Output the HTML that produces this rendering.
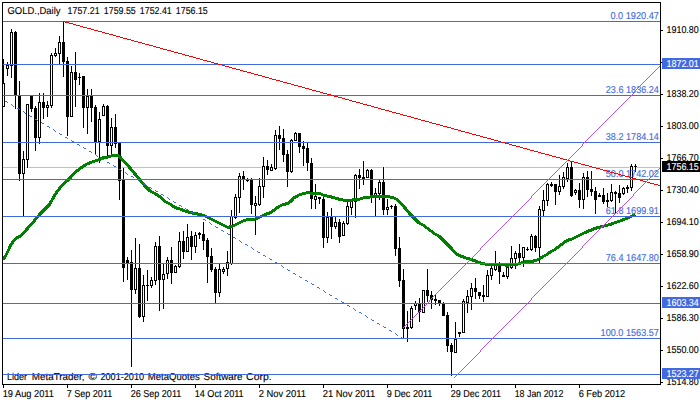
<!DOCTYPE html>
<html><head><meta charset="utf-8"><title>GOLD Daily</title>
<style>html,body{margin:0;padding:0;background:#fff}body{width:700px;height:402px;overflow:hidden}</style></head>
<body>
<svg width="700" height="402" viewBox="0 0 700 402" style="display:block">
<rect width="700" height="402" fill="#fff"/>
<g font-family="Liberation Sans, sans-serif" font-size="10px" text-rendering="geometricPrecision">
<g shape-rendering="crispEdges">
<rect x="3" y="167" width="657" height="1" fill="#C0C0C0"/>
</g>
<text x="6.9" y="380" fill="#000" stroke="#000" stroke-width="0.12" text-anchor="start" textLength="20.2" lengthAdjust="spacingAndGlyphs">Lider</text>
<text x="31.7" y="380" fill="#000" stroke="#000" stroke-width="0.12" text-anchor="start" textLength="52.9" lengthAdjust="spacingAndGlyphs">MetaTrader,</text>
<text x="88.6" y="380" fill="#000" stroke="#000" stroke-width="0.12" text-anchor="start" textLength="8.3" lengthAdjust="spacingAndGlyphs">©</text>
<text x="100.5" y="380" fill="#000" stroke="#000" stroke-width="0.12" text-anchor="start" textLength="43.5" lengthAdjust="spacingAndGlyphs">2001-2010</text>
<text x="147.8" y="380" fill="#000" stroke="#000" stroke-width="0.12" text-anchor="start" textLength="52" lengthAdjust="spacingAndGlyphs">MetaQuotes</text>
<text x="203.6" y="380" fill="#000" stroke="#000" stroke-width="0.12" text-anchor="start" textLength="39" lengthAdjust="spacingAndGlyphs">Software</text>
<text x="246.1" y="380" fill="#000" stroke="#000" stroke-width="0.12" text-anchor="start" textLength="25.6" lengthAdjust="spacingAndGlyphs">Corp.</text>
<g shape-rendering="crispEdges">
<rect x="3" y="59" width="1" height="48" fill="#000"/>
<rect x="2" y="83" width="3" height="24" fill="#000"/>
<rect x="3" y="84" width="1" height="22" fill="#fff"/>
<rect x="7" y="62" width="1" height="14" fill="#000"/>
<rect x="6" y="65" width="3" height="4" fill="#000"/>
<rect x="7" y="66" width="1" height="2" fill="#fff"/>
<rect x="11" y="29" width="1" height="49" fill="#000"/>
<rect x="10" y="32" width="3" height="34" fill="#000"/>
<rect x="11" y="33" width="1" height="32" fill="#fff"/>
<rect x="15" y="31" width="1" height="78" fill="#000"/>
<rect x="14" y="32" width="3" height="63" fill="#000"/>
<rect x="19" y="81" width="1" height="100" fill="#000"/>
<rect x="18" y="96" width="3" height="78" fill="#000"/>
<rect x="23" y="151" width="1" height="66" fill="#000"/>
<rect x="22" y="159" width="3" height="15" fill="#000"/>
<rect x="23" y="160" width="1" height="13" fill="#fff"/>
<rect x="27" y="104" width="1" height="64" fill="#000"/>
<rect x="26" y="104" width="3" height="56" fill="#000"/>
<rect x="27" y="105" width="1" height="54" fill="#fff"/>
<rect x="31" y="96" width="1" height="16" fill="#000"/>
<rect x="30" y="96" width="3" height="13" fill="#000"/>
<rect x="35" y="106" width="1" height="45" fill="#000"/>
<rect x="34" y="108" width="3" height="30" fill="#000"/>
<rect x="39" y="93" width="1" height="51" fill="#000"/>
<rect x="38" y="102" width="3" height="36" fill="#000"/>
<rect x="39" y="103" width="1" height="34" fill="#fff"/>
<rect x="43" y="93" width="1" height="26" fill="#000"/>
<rect x="42" y="102" width="3" height="6" fill="#000"/>
<rect x="47" y="101" width="1" height="16" fill="#000"/>
<rect x="46" y="105" width="3" height="3" fill="#000"/>
<rect x="47" y="106" width="1" height="1" fill="#fff"/>
<rect x="51" y="53" width="1" height="55" fill="#000"/>
<rect x="50" y="55" width="3" height="51" fill="#000"/>
<rect x="51" y="56" width="1" height="49" fill="#fff"/>
<rect x="55" y="48" width="1" height="9" fill="#000"/>
<rect x="54" y="53" width="3" height="3" fill="#000"/>
<rect x="55" y="54" width="1" height="1" fill="#fff"/>
<rect x="59" y="36" width="1" height="29" fill="#000"/>
<rect x="58" y="42" width="3" height="12" fill="#000"/>
<rect x="59" y="43" width="1" height="10" fill="#fff"/>
<rect x="63" y="21" width="1" height="56" fill="#000"/>
<rect x="62" y="42" width="3" height="20" fill="#000"/>
<rect x="67" y="57" width="1" height="79" fill="#000"/>
<rect x="66" y="61" width="3" height="56" fill="#000"/>
<rect x="71" y="66" width="1" height="51" fill="#000"/>
<rect x="70" y="72" width="3" height="45" fill="#000"/>
<rect x="71" y="73" width="1" height="43" fill="#fff"/>
<rect x="75" y="52" width="1" height="55" fill="#000"/>
<rect x="74" y="72" width="3" height="8" fill="#000"/>
<rect x="79" y="73" width="1" height="12" fill="#000"/>
<rect x="78" y="77" width="3" height="1" fill="#000"/>
<rect x="83" y="76" width="1" height="52" fill="#000"/>
<rect x="82" y="76" width="3" height="32" fill="#000"/>
<rect x="87" y="89" width="1" height="45" fill="#000"/>
<rect x="86" y="96" width="3" height="12" fill="#000"/>
<rect x="87" y="97" width="1" height="10" fill="#fff"/>
<rect x="91" y="89" width="1" height="33" fill="#000"/>
<rect x="90" y="96" width="3" height="12" fill="#000"/>
<rect x="95" y="105" width="1" height="50" fill="#000"/>
<rect x="94" y="107" width="3" height="35" fill="#000"/>
<rect x="99" y="112" width="1" height="51" fill="#000"/>
<rect x="98" y="119" width="3" height="23" fill="#000"/>
<rect x="99" y="120" width="1" height="21" fill="#fff"/>
<rect x="103" y="104" width="1" height="12" fill="#000"/>
<rect x="102" y="106" width="3" height="10" fill="#000"/>
<rect x="103" y="107" width="1" height="8" fill="#fff"/>
<rect x="107" y="105" width="1" height="51" fill="#000"/>
<rect x="106" y="106" width="3" height="40" fill="#000"/>
<rect x="111" y="118" width="1" height="37" fill="#000"/>
<rect x="110" y="127" width="3" height="19" fill="#000"/>
<rect x="111" y="128" width="1" height="17" fill="#fff"/>
<rect x="115" y="114" width="1" height="34" fill="#000"/>
<rect x="114" y="127" width="3" height="17" fill="#000"/>
<rect x="119" y="143" width="1" height="57" fill="#000"/>
<rect x="118" y="143" width="3" height="38" fill="#000"/>
<rect x="123" y="168" width="1" height="114" fill="#000"/>
<rect x="122" y="180" width="3" height="88" fill="#000"/>
<rect x="127" y="257" width="1" height="23" fill="#000"/>
<rect x="126" y="260" width="3" height="4" fill="#000"/>
<rect x="131" y="250" width="1" height="117" fill="#000"/>
<rect x="130" y="262" width="3" height="28" fill="#000"/>
<rect x="135" y="238" width="1" height="56" fill="#000"/>
<rect x="134" y="268" width="3" height="22" fill="#000"/>
<rect x="135" y="269" width="1" height="20" fill="#fff"/>
<rect x="139" y="244" width="1" height="74" fill="#000"/>
<rect x="138" y="268" width="3" height="49" fill="#000"/>
<rect x="143" y="275" width="1" height="47" fill="#000"/>
<rect x="142" y="285" width="3" height="32" fill="#000"/>
<rect x="143" y="286" width="1" height="30" fill="#fff"/>
<rect x="147" y="270" width="1" height="31" fill="#000"/>
<rect x="146" y="285" width="3" height="1" fill="#000"/>
<rect x="151" y="277" width="1" height="11" fill="#000"/>
<rect x="150" y="280" width="3" height="6" fill="#000"/>
<rect x="151" y="281" width="1" height="4" fill="#fff"/>
<rect x="155" y="242" width="1" height="43" fill="#000"/>
<rect x="154" y="246" width="3" height="35" fill="#000"/>
<rect x="155" y="247" width="1" height="33" fill="#fff"/>
<rect x="159" y="236" width="1" height="75" fill="#000"/>
<rect x="158" y="246" width="3" height="34" fill="#000"/>
<rect x="163" y="264" width="1" height="45" fill="#000"/>
<rect x="162" y="274" width="3" height="6" fill="#000"/>
<rect x="163" y="275" width="1" height="4" fill="#fff"/>
<rect x="167" y="257" width="1" height="22" fill="#000"/>
<rect x="166" y="260" width="3" height="14" fill="#000"/>
<rect x="167" y="261" width="1" height="12" fill="#fff"/>
<rect x="171" y="247" width="1" height="37" fill="#000"/>
<rect x="170" y="260" width="3" height="13" fill="#000"/>
<rect x="175" y="265" width="1" height="8" fill="#000"/>
<rect x="174" y="266" width="3" height="7" fill="#000"/>
<rect x="175" y="267" width="1" height="5" fill="#fff"/>
<rect x="179" y="232" width="1" height="36" fill="#000"/>
<rect x="178" y="241" width="3" height="26" fill="#000"/>
<rect x="179" y="242" width="1" height="24" fill="#fff"/>
<rect x="183" y="231" width="1" height="28" fill="#000"/>
<rect x="182" y="241" width="3" height="11" fill="#000"/>
<rect x="187" y="224" width="1" height="28" fill="#000"/>
<rect x="186" y="237" width="3" height="15" fill="#000"/>
<rect x="187" y="238" width="1" height="13" fill="#fff"/>
<rect x="191" y="231" width="1" height="29" fill="#000"/>
<rect x="190" y="236" width="3" height="11" fill="#000"/>
<rect x="195" y="232" width="1" height="21" fill="#000"/>
<rect x="194" y="235" width="3" height="12" fill="#000"/>
<rect x="195" y="236" width="1" height="10" fill="#fff"/>
<rect x="199" y="232" width="1" height="7" fill="#000"/>
<rect x="198" y="233" width="3" height="2" fill="#000"/>
<rect x="203" y="222" width="1" height="28" fill="#000"/>
<rect x="202" y="234" width="3" height="7" fill="#000"/>
<rect x="207" y="238" width="1" height="45" fill="#000"/>
<rect x="206" y="240" width="3" height="17" fill="#000"/>
<rect x="211" y="248" width="1" height="24" fill="#000"/>
<rect x="210" y="256" width="3" height="14" fill="#000"/>
<rect x="215" y="267" width="1" height="37" fill="#000"/>
<rect x="214" y="269" width="3" height="24" fill="#000"/>
<rect x="219" y="264" width="1" height="33" fill="#000"/>
<rect x="218" y="269" width="3" height="24" fill="#000"/>
<rect x="219" y="270" width="1" height="22" fill="#fff"/>
<rect x="223" y="267" width="1" height="7" fill="#000"/>
<rect x="222" y="269" width="3" height="3" fill="#000"/>
<rect x="223" y="270" width="1" height="1" fill="#fff"/>
<rect x="227" y="251" width="1" height="25" fill="#000"/>
<rect x="226" y="262" width="3" height="7" fill="#000"/>
<rect x="227" y="263" width="1" height="5" fill="#fff"/>
<rect x="231" y="210" width="1" height="55" fill="#000"/>
<rect x="230" y="216" width="3" height="48" fill="#000"/>
<rect x="231" y="217" width="1" height="46" fill="#fff"/>
<rect x="235" y="194" width="1" height="25" fill="#000"/>
<rect x="234" y="197" width="3" height="21" fill="#000"/>
<rect x="235" y="198" width="1" height="19" fill="#fff"/>
<rect x="239" y="173" width="1" height="40" fill="#000"/>
<rect x="238" y="176" width="3" height="22" fill="#000"/>
<rect x="239" y="177" width="1" height="20" fill="#fff"/>
<rect x="243" y="171" width="1" height="19" fill="#000"/>
<rect x="242" y="176" width="3" height="4" fill="#000"/>
<rect x="247" y="178" width="1" height="4" fill="#000"/>
<rect x="246" y="180" width="3" height="1" fill="#000"/>
<rect x="251" y="178" width="1" height="36" fill="#000"/>
<rect x="250" y="180" width="3" height="25" fill="#000"/>
<rect x="255" y="196" width="1" height="39" fill="#000"/>
<rect x="254" y="203" width="3" height="3" fill="#000"/>
<rect x="255" y="204" width="1" height="1" fill="#fff"/>
<rect x="259" y="178" width="1" height="28" fill="#000"/>
<rect x="258" y="186" width="3" height="19" fill="#000"/>
<rect x="259" y="187" width="1" height="17" fill="#fff"/>
<rect x="263" y="157" width="1" height="41" fill="#000"/>
<rect x="262" y="166" width="3" height="21" fill="#000"/>
<rect x="263" y="167" width="1" height="19" fill="#fff"/>
<rect x="267" y="160" width="1" height="15" fill="#000"/>
<rect x="266" y="166" width="3" height="4" fill="#000"/>
<rect x="271" y="164" width="1" height="7" fill="#000"/>
<rect x="270" y="167" width="3" height="4" fill="#000"/>
<rect x="271" y="168" width="1" height="2" fill="#fff"/>
<rect x="275" y="130" width="1" height="40" fill="#000"/>
<rect x="274" y="135" width="3" height="34" fill="#000"/>
<rect x="275" y="136" width="1" height="32" fill="#fff"/>
<rect x="279" y="126" width="1" height="24" fill="#000"/>
<rect x="278" y="135" width="3" height="4" fill="#000"/>
<rect x="283" y="129" width="1" height="33" fill="#000"/>
<rect x="282" y="138" width="3" height="17" fill="#000"/>
<rect x="287" y="150" width="1" height="37" fill="#000"/>
<rect x="286" y="154" width="3" height="18" fill="#000"/>
<rect x="291" y="139" width="1" height="34" fill="#000"/>
<rect x="290" y="140" width="3" height="32" fill="#000"/>
<rect x="291" y="141" width="1" height="30" fill="#fff"/>
<rect x="295" y="132" width="1" height="9" fill="#000"/>
<rect x="294" y="133" width="3" height="8" fill="#000"/>
<rect x="295" y="134" width="1" height="6" fill="#fff"/>
<rect x="299" y="133" width="1" height="20" fill="#000"/>
<rect x="298" y="133" width="3" height="14" fill="#000"/>
<rect x="303" y="141" width="1" height="25" fill="#000"/>
<rect x="302" y="146" width="3" height="3" fill="#000"/>
<rect x="307" y="143" width="1" height="28" fill="#000"/>
<rect x="306" y="148" width="3" height="15" fill="#000"/>
<rect x="311" y="158" width="1" height="51" fill="#000"/>
<rect x="310" y="163" width="3" height="36" fill="#000"/>
<rect x="315" y="184" width="1" height="25" fill="#000"/>
<rect x="314" y="196" width="3" height="4" fill="#000"/>
<rect x="315" y="197" width="1" height="2" fill="#fff"/>
<rect x="319" y="197" width="1" height="7" fill="#000"/>
<rect x="318" y="197" width="3" height="2" fill="#000"/>
<rect x="323" y="197" width="1" height="51" fill="#000"/>
<rect x="322" y="199" width="3" height="39" fill="#000"/>
<rect x="327" y="212" width="1" height="31" fill="#000"/>
<rect x="326" y="217" width="3" height="21" fill="#000"/>
<rect x="327" y="218" width="1" height="19" fill="#fff"/>
<rect x="331" y="208" width="1" height="31" fill="#000"/>
<rect x="330" y="217" width="3" height="10" fill="#000"/>
<rect x="335" y="217" width="1" height="12" fill="#000"/>
<rect x="334" y="222" width="3" height="5" fill="#000"/>
<rect x="335" y="223" width="1" height="3" fill="#fff"/>
<rect x="339" y="219" width="1" height="24" fill="#000"/>
<rect x="338" y="222" width="3" height="15" fill="#000"/>
<rect x="343" y="221" width="1" height="15" fill="#000"/>
<rect x="342" y="223" width="3" height="13" fill="#000"/>
<rect x="343" y="224" width="1" height="11" fill="#fff"/>
<rect x="347" y="201" width="1" height="24" fill="#000"/>
<rect x="346" y="206" width="3" height="18" fill="#000"/>
<rect x="347" y="207" width="1" height="16" fill="#fff"/>
<rect x="351" y="199" width="1" height="16" fill="#000"/>
<rect x="350" y="201" width="3" height="7" fill="#000"/>
<rect x="351" y="202" width="1" height="5" fill="#fff"/>
<rect x="355" y="174" width="1" height="44" fill="#000"/>
<rect x="354" y="175" width="3" height="27" fill="#000"/>
<rect x="355" y="176" width="1" height="25" fill="#fff"/>
<rect x="359" y="169" width="1" height="20" fill="#000"/>
<rect x="358" y="175" width="3" height="3" fill="#000"/>
<rect x="363" y="161" width="1" height="24" fill="#000"/>
<rect x="362" y="177" width="3" height="3" fill="#000"/>
<rect x="367" y="169" width="1" height="9" fill="#000"/>
<rect x="366" y="170" width="3" height="8" fill="#000"/>
<rect x="367" y="171" width="1" height="6" fill="#fff"/>
<rect x="371" y="169" width="1" height="34" fill="#000"/>
<rect x="370" y="170" width="3" height="26" fill="#000"/>
<rect x="375" y="188" width="1" height="29" fill="#000"/>
<rect x="374" y="193" width="3" height="3" fill="#000"/>
<rect x="375" y="194" width="1" height="1" fill="#fff"/>
<rect x="379" y="180" width="1" height="20" fill="#000"/>
<rect x="378" y="182" width="3" height="12" fill="#000"/>
<rect x="379" y="183" width="1" height="10" fill="#fff"/>
<rect x="383" y="167" width="1" height="48" fill="#000"/>
<rect x="382" y="182" width="3" height="28" fill="#000"/>
<rect x="387" y="199" width="1" height="16" fill="#000"/>
<rect x="386" y="207" width="3" height="3" fill="#000"/>
<rect x="387" y="208" width="1" height="1" fill="#fff"/>
<rect x="391" y="205" width="1" height="4" fill="#000"/>
<rect x="390" y="206" width="3" height="1" fill="#000"/>
<rect x="395" y="204" width="1" height="52" fill="#000"/>
<rect x="394" y="206" width="3" height="43" fill="#000"/>
<rect x="399" y="237" width="1" height="50" fill="#000"/>
<rect x="398" y="248" width="3" height="33" fill="#000"/>
<rect x="403" y="269" width="1" height="70" fill="#000"/>
<rect x="402" y="280" width="3" height="49" fill="#000"/>
<rect x="407" y="311" width="1" height="31" fill="#000"/>
<rect x="406" y="327" width="3" height="2" fill="#000"/>
<rect x="411" y="306" width="1" height="23" fill="#000"/>
<rect x="410" y="308" width="3" height="20" fill="#000"/>
<rect x="411" y="309" width="1" height="18" fill="#fff"/>
<rect x="415" y="301" width="1" height="9" fill="#000"/>
<rect x="414" y="303" width="3" height="3" fill="#000"/>
<rect x="415" y="304" width="1" height="1" fill="#fff"/>
<rect x="419" y="298" width="1" height="24" fill="#000"/>
<rect x="418" y="304" width="3" height="8" fill="#000"/>
<rect x="423" y="290" width="1" height="23" fill="#000"/>
<rect x="422" y="290" width="3" height="23" fill="#000"/>
<rect x="423" y="291" width="1" height="21" fill="#fff"/>
<rect x="427" y="269" width="1" height="33" fill="#000"/>
<rect x="426" y="290" width="3" height="6" fill="#000"/>
<rect x="431" y="291" width="1" height="18" fill="#000"/>
<rect x="430" y="295" width="3" height="5" fill="#000"/>
<rect x="435" y="294" width="1" height="11" fill="#000"/>
<rect x="434" y="299" width="3" height="2" fill="#000"/>
<rect x="439" y="300" width="1" height="6" fill="#000"/>
<rect x="438" y="300" width="3" height="3" fill="#000"/>
<rect x="443" y="302" width="1" height="14" fill="#000"/>
<rect x="442" y="304" width="3" height="12" fill="#000"/>
<rect x="447" y="312" width="1" height="40" fill="#000"/>
<rect x="446" y="315" width="3" height="31" fill="#000"/>
<rect x="451" y="343" width="1" height="33" fill="#000"/>
<rect x="450" y="345" width="3" height="7" fill="#000"/>
<rect x="455" y="322" width="1" height="31" fill="#000"/>
<rect x="454" y="339" width="3" height="14" fill="#000"/>
<rect x="455" y="340" width="1" height="12" fill="#fff"/>
<rect x="459" y="332" width="1" height="5" fill="#000"/>
<rect x="458" y="332" width="3" height="2" fill="#000"/>
<rect x="463" y="299" width="1" height="34" fill="#000"/>
<rect x="462" y="301" width="3" height="32" fill="#000"/>
<rect x="463" y="302" width="1" height="30" fill="#fff"/>
<rect x="467" y="290" width="1" height="23" fill="#000"/>
<rect x="466" y="296" width="3" height="7" fill="#000"/>
<rect x="467" y="297" width="1" height="5" fill="#fff"/>
<rect x="471" y="283" width="1" height="27" fill="#000"/>
<rect x="470" y="288" width="3" height="9" fill="#000"/>
<rect x="471" y="289" width="1" height="7" fill="#fff"/>
<rect x="475" y="278" width="1" height="21" fill="#000"/>
<rect x="474" y="288" width="3" height="4" fill="#000"/>
<rect x="479" y="292" width="1" height="7" fill="#000"/>
<rect x="478" y="292" width="3" height="4" fill="#000"/>
<rect x="483" y="285" width="1" height="17" fill="#000"/>
<rect x="482" y="295" width="3" height="2" fill="#000"/>
<rect x="487" y="270" width="1" height="27" fill="#000"/>
<rect x="486" y="275" width="3" height="22" fill="#000"/>
<rect x="487" y="276" width="1" height="20" fill="#fff"/>
<rect x="491" y="266" width="1" height="14" fill="#000"/>
<rect x="490" y="268" width="3" height="8" fill="#000"/>
<rect x="491" y="269" width="1" height="6" fill="#fff"/>
<rect x="495" y="251" width="1" height="20" fill="#000"/>
<rect x="494" y="264" width="3" height="6" fill="#000"/>
<rect x="495" y="265" width="1" height="4" fill="#fff"/>
<rect x="499" y="262" width="1" height="22" fill="#000"/>
<rect x="498" y="265" width="3" height="7" fill="#000"/>
<rect x="503" y="272" width="1" height="5" fill="#000"/>
<rect x="502" y="275" width="3" height="2" fill="#000"/>
<rect x="507" y="266" width="1" height="13" fill="#000"/>
<rect x="506" y="267" width="3" height="10" fill="#000"/>
<rect x="507" y="268" width="1" height="8" fill="#fff"/>
<rect x="511" y="246" width="1" height="23" fill="#000"/>
<rect x="510" y="258" width="3" height="10" fill="#000"/>
<rect x="511" y="259" width="1" height="8" fill="#fff"/>
<rect x="515" y="251" width="1" height="18" fill="#000"/>
<rect x="514" y="253" width="3" height="6" fill="#000"/>
<rect x="515" y="254" width="1" height="4" fill="#fff"/>
<rect x="519" y="244" width="1" height="20" fill="#000"/>
<rect x="518" y="253" width="3" height="5" fill="#000"/>
<rect x="523" y="247" width="1" height="20" fill="#000"/>
<rect x="522" y="247" width="3" height="11" fill="#000"/>
<rect x="523" y="248" width="1" height="9" fill="#fff"/>
<rect x="527" y="247" width="1" height="4" fill="#000"/>
<rect x="526" y="249" width="3" height="1" fill="#000"/>
<rect x="531" y="234" width="1" height="17" fill="#000"/>
<rect x="530" y="236" width="3" height="14" fill="#000"/>
<rect x="531" y="237" width="1" height="12" fill="#fff"/>
<rect x="535" y="235" width="1" height="17" fill="#000"/>
<rect x="534" y="236" width="3" height="12" fill="#000"/>
<rect x="539" y="206" width="1" height="57" fill="#000"/>
<rect x="538" y="209" width="3" height="39" fill="#000"/>
<rect x="539" y="210" width="1" height="37" fill="#fff"/>
<rect x="543" y="190" width="1" height="26" fill="#000"/>
<rect x="542" y="200" width="3" height="11" fill="#000"/>
<rect x="543" y="201" width="1" height="9" fill="#fff"/>
<rect x="547" y="183" width="1" height="23" fill="#000"/>
<rect x="546" y="184" width="3" height="17" fill="#000"/>
<rect x="547" y="185" width="1" height="15" fill="#fff"/>
<rect x="551" y="182" width="1" height="5" fill="#000"/>
<rect x="550" y="184" width="3" height="2" fill="#000"/>
<rect x="555" y="184" width="1" height="21" fill="#000"/>
<rect x="554" y="184" width="3" height="8" fill="#000"/>
<rect x="559" y="175" width="1" height="20" fill="#000"/>
<rect x="558" y="186" width="3" height="6" fill="#000"/>
<rect x="559" y="187" width="1" height="4" fill="#fff"/>
<rect x="563" y="172" width="1" height="17" fill="#000"/>
<rect x="562" y="177" width="3" height="10" fill="#000"/>
<rect x="563" y="178" width="1" height="8" fill="#fff"/>
<rect x="567" y="163" width="1" height="19" fill="#000"/>
<rect x="566" y="167" width="3" height="12" fill="#000"/>
<rect x="567" y="168" width="1" height="10" fill="#fff"/>
<rect x="571" y="162" width="1" height="35" fill="#000"/>
<rect x="570" y="167" width="3" height="29" fill="#000"/>
<rect x="575" y="189" width="1" height="6" fill="#000"/>
<rect x="574" y="190" width="3" height="3" fill="#000"/>
<rect x="575" y="191" width="1" height="1" fill="#fff"/>
<rect x="579" y="183" width="1" height="25" fill="#000"/>
<rect x="578" y="190" width="3" height="10" fill="#000"/>
<rect x="583" y="173" width="1" height="36" fill="#000"/>
<rect x="582" y="177" width="3" height="23" fill="#000"/>
<rect x="583" y="178" width="1" height="21" fill="#fff"/>
<rect x="587" y="171" width="1" height="26" fill="#000"/>
<rect x="586" y="177" width="3" height="13" fill="#000"/>
<rect x="591" y="171" width="1" height="25" fill="#000"/>
<rect x="590" y="189" width="3" height="3" fill="#000"/>
<rect x="595" y="187" width="1" height="27" fill="#000"/>
<rect x="594" y="191" width="3" height="9" fill="#000"/>
<rect x="599" y="193" width="1" height="4" fill="#000"/>
<rect x="598" y="195" width="3" height="2" fill="#000"/>
<rect x="603" y="188" width="1" height="16" fill="#000"/>
<rect x="602" y="195" width="3" height="7" fill="#000"/>
<rect x="607" y="193" width="1" height="14" fill="#000"/>
<rect x="606" y="200" width="3" height="2" fill="#000"/>
<rect x="611" y="184" width="1" height="18" fill="#000"/>
<rect x="610" y="192" width="3" height="9" fill="#000"/>
<rect x="611" y="193" width="1" height="7" fill="#fff"/>
<rect x="615" y="191" width="1" height="23" fill="#000"/>
<rect x="614" y="192" width="3" height="2" fill="#000"/>
<rect x="619" y="185" width="1" height="18" fill="#000"/>
<rect x="618" y="193" width="3" height="5" fill="#000"/>
<rect x="623" y="187" width="1" height="8" fill="#000"/>
<rect x="622" y="188" width="3" height="6" fill="#000"/>
<rect x="623" y="189" width="1" height="4" fill="#fff"/>
<rect x="627" y="185" width="1" height="8" fill="#000"/>
<rect x="626" y="187" width="3" height="2" fill="#000"/>
<rect x="631" y="164" width="1" height="27" fill="#000"/>
<rect x="630" y="166" width="3" height="22" fill="#000"/>
<rect x="631" y="167" width="1" height="20" fill="#fff"/>
<rect x="635" y="164" width="1" height="8" fill="#000"/>
<rect x="634" y="166" width="3" height="1" fill="#000"/>
<rect x="17" y="167" width="1" height="1" fill="#E9E9E9"/>
<rect x="21" y="167" width="1" height="1" fill="#E9E9E9"/>
<rect x="21" y="167" width="1" height="1" fill="#E9E9E9"/>
<rect x="25" y="167" width="1" height="1" fill="#E9E9E9"/>
<rect x="26" y="167" width="1" height="1" fill="#E9E9E9"/>
<rect x="28" y="167" width="1" height="1" fill="#E9E9E9"/>
<rect x="117" y="167" width="1" height="1" fill="#E9E9E9"/>
<rect x="121" y="167" width="1" height="1" fill="#E9E9E9"/>
<rect x="261" y="167" width="1" height="1" fill="#E9E9E9"/>
<rect x="265" y="167" width="1" height="1" fill="#E9E9E9"/>
<rect x="265" y="167" width="1" height="1" fill="#E9E9E9"/>
<rect x="269" y="167" width="1" height="1" fill="#E9E9E9"/>
<rect x="269" y="167" width="1" height="1" fill="#E9E9E9"/>
<rect x="273" y="167" width="1" height="1" fill="#E9E9E9"/>
<rect x="273" y="167" width="1" height="1" fill="#E9E9E9"/>
<rect x="277" y="167" width="1" height="1" fill="#E9E9E9"/>
<rect x="285" y="167" width="1" height="1" fill="#E9E9E9"/>
<rect x="289" y="167" width="1" height="1" fill="#E9E9E9"/>
<rect x="289" y="167" width="1" height="1" fill="#E9E9E9"/>
<rect x="293" y="167" width="1" height="1" fill="#E9E9E9"/>
<rect x="306" y="167" width="1" height="1" fill="#E9E9E9"/>
<rect x="308" y="167" width="1" height="1" fill="#E9E9E9"/>
<rect x="309" y="167" width="1" height="1" fill="#E9E9E9"/>
<rect x="313" y="167" width="1" height="1" fill="#E9E9E9"/>
<rect x="362" y="167" width="1" height="1" fill="#E9E9E9"/>
<rect x="364" y="167" width="1" height="1" fill="#E9E9E9"/>
<rect x="382" y="167" width="1" height="1" fill="#E9E9E9"/>
<rect x="384" y="167" width="1" height="1" fill="#E9E9E9"/>
<rect x="565" y="167" width="1" height="1" fill="#E9E9E9"/>
<rect x="569" y="167" width="1" height="1" fill="#E9E9E9"/>
<rect x="569" y="167" width="1" height="1" fill="#E9E9E9"/>
<rect x="573" y="167" width="1" height="1" fill="#E9E9E9"/>
<rect x="629" y="167" width="1" height="1" fill="#E9E9E9"/>
<rect x="633" y="167" width="1" height="1" fill="#E9E9E9"/>
<rect x="634" y="167" width="1" height="1" fill="#E9E9E9"/>
<rect x="636" y="167" width="1" height="1" fill="#E9E9E9"/>
<polyline points="3.0,260.0 6.0,255.0 9.0,249.0 11.0,244.5 14.0,240.5 17.0,237.5 20.0,236.5 24.0,232.5 27.0,229.0 30.0,225.5 33.0,222.5 36.0,218.5 40.0,214.0 45.0,209.0 49.5,204.5 52.5,199.0 55.5,194.0 59.0,189.0 63.0,184.7 68.0,180.0 70.0,178.0 75.0,172.5 80.0,168.5 86.0,164.5 90.0,162.8 95.0,161.0 100.0,159.5 103.0,157.5 108.0,157.0 113.0,155.5 117.0,155.0 120.0,157.0 125.0,162.5 130.0,168.0 135.0,174.0 140.0,180.0 145.0,186.0 150.0,191.0 155.0,193.5 160.0,196.8 165.0,201.5 170.0,204.0 175.0,207.5 180.0,209.0 185.0,211.0 190.0,212.5 195.0,213.5 200.0,214.5 205.0,216.0 210.0,218.5 215.0,221.0 220.0,223.5 225.0,226.0 228.0,227.5 233.0,226.0 238.0,223.5 243.0,221.0 248.0,219.5 255.0,219.0 260.0,217.0 265.0,214.5 271.0,212.5 275.0,209.5 279.0,206.5 283.0,204.5 288.0,203.5 291.0,201.0 294.0,197.8 299.0,195.0 304.0,193.5 308.0,192.5 312.0,193.5 320.0,193.5 324.0,195.5 330.0,196.5 335.0,198.0 340.0,199.5 344.0,200.2 350.0,200.3 355.0,199.5 360.0,199.0 365.0,197.5 370.0,197.0 375.0,196.5 380.0,196.2 385.0,196.5 390.0,197.0 393.0,197.5 397.0,199.5 400.0,202.5 405.0,208.0 410.0,214.0 415.0,219.0 419.0,223.0 423.0,225.0 427.0,228.0 431.0,231.0 435.0,234.0 439.0,236.0 443.0,240.0 447.0,244.0 451.0,248.0 454.0,251.5 458.0,255.0 462.0,256.5 466.0,258.0 470.0,259.0 474.0,260.5 478.0,262.0 482.0,263.5 486.0,264.2 490.0,264.5 500.0,264.5 505.0,265.0 509.0,265.0 513.0,264.6 517.0,264.3 521.0,263.0 525.0,261.8 531.0,261.5 536.0,260.5 539.0,259.0 543.0,256.5 547.0,254.5 551.0,251.5 555.0,249.5 559.0,246.5 563.0,243.5 567.0,240.5 572.0,239.0 578.0,236.0 584.0,233.0 590.0,230.5 595.0,228.5 600.0,227.0 610.0,224.5 620.0,221.0 630.0,217.0 635.5,214.5" fill="none" stroke="#008000" stroke-width="3" stroke-linejoin="round"/>
<rect x="3" y="21" width="657" height="1" fill="#4169E1"/>
<rect x="3" y="64" width="657" height="1" fill="#4169E1"/>
<rect x="3" y="95" width="657" height="1" fill="#4169E1"/>
<rect x="3" y="142" width="657" height="1" fill="#4169E1"/>
<rect x="3" y="179" width="657" height="1" fill="#4169E1"/>
<rect x="3" y="216" width="657" height="1" fill="#4169E1"/>
<rect x="3" y="263" width="657" height="1" fill="#4169E1"/>
<rect x="3" y="303" width="657" height="1" fill="#4169E1"/>
<rect x="3" y="338" width="657" height="1" fill="#4169E1"/>
<rect x="3" y="374" width="657" height="1" fill="#4169E1"/>
<path d="M5 101h2v1h-2zM7 102h1v1h-1zM11 104h1v1h-1zM12 105h1v1h-1zM13 106h1v1h-1zM17 108h2v1h-2zM19 109h1v1h-1zM23 111h1v1h-1zM24 112h1v1h-1zM25 113h1v1h-1zM29 115h1v1h-1zM30 116h2v1h-2zM35 119h2v1h-2zM37 120h1v1h-1zM41 122h1v1h-1zM42 123h2v1h-2zM47 126h2v1h-2zM49 127h1v1h-1zM53 129h1v1h-1zM54 130h1v1h-1zM55 131h1v1h-1zM59 133h1v1h-1zM60 134h2v1h-2zM65 137h2v1h-2zM67 138h1v1h-1zM71 140h1v1h-1zM72 141h2v1h-2zM77 144h2v1h-2zM79 145h1v1h-1zM83 147h1v1h-1zM84 148h2v1h-2zM89 151h2v1h-2zM91 152h1v1h-1zM95 154h1v1h-1zM96 155h1v1h-1zM97 156h1v1h-1zM101 158h1v1h-1zM102 159h2v1h-2zM107 162h2v1h-2zM109 163h1v1h-1zM113 165h1v1h-1zM114 166h2v1h-2zM119 169h2v1h-2zM121 170h1v1h-1zM125 172h1v1h-1zM126 173h1v1h-1zM127 174h1v1h-1zM131 176h2v1h-2zM133 177h1v1h-1zM137 179h1v1h-1zM138 180h1v1h-1zM139 181h1v1h-1zM143 183h1v1h-1zM144 184h2v1h-2zM149 187h2v1h-2zM151 188h1v1h-1zM155 190h1v1h-1zM156 191h2v1h-2zM161 194h2v1h-2zM163 195h1v1h-1zM167 197h1v1h-1zM168 198h1v1h-1zM169 199h1v1h-1zM173 201h1v1h-1zM174 202h2v1h-2zM179 205h2v1h-2zM181 206h1v1h-1zM185 208h1v1h-1zM186 209h2v1h-2zM191 212h2v1h-2zM193 213h1v1h-1zM197 215h1v1h-1zM198 216h2v1h-2zM203 219h2v1h-2zM205 220h1v1h-1zM209 222h1v1h-1zM210 223h1v1h-1zM211 224h1v1h-1zM215 226h1v1h-1zM216 227h2v1h-2zM221 230h2v1h-2zM223 231h1v1h-1zM227 233h1v1h-1zM228 234h2v1h-2zM233 237h2v1h-2zM235 238h1v1h-1zM239 240h1v1h-1zM240 241h1v1h-1zM241 242h1v1h-1zM245 244h2v1h-2zM247 245h1v1h-1zM251 247h1v1h-1zM252 248h1v1h-1zM253 249h1v1h-1zM257 251h1v1h-1zM258 252h2v1h-2zM263 255h2v1h-2zM265 256h1v1h-1zM269 258h1v1h-1zM270 259h2v1h-2zM275 262h2v1h-2zM277 263h1v1h-1zM281 265h1v1h-1zM282 266h1v1h-1zM283 267h1v1h-1zM287 269h1v1h-1zM288 270h2v1h-2zM293 273h2v1h-2zM295 274h1v1h-1zM299 276h1v1h-1zM300 277h2v1h-2zM305 280h2v1h-2zM307 281h1v1h-1zM311 283h1v1h-1zM312 284h2v1h-2zM317 287h2v1h-2zM319 288h1v1h-1zM323 290h1v1h-1zM324 291h1v1h-1zM325 292h1v1h-1zM329 294h1v1h-1zM330 295h2v1h-2zM335 298h2v1h-2zM337 299h1v1h-1zM341 301h1v1h-1zM342 302h2v1h-2zM347 305h2v1h-2zM349 306h1v1h-1zM353 308h1v1h-1zM354 309h1v1h-1zM355 310h1v1h-1zM359 312h2v1h-2zM361 313h1v1h-1zM365 315h1v1h-1zM366 316h1v1h-1zM367 317h1v1h-1zM371 319h1v1h-1zM372 320h2v1h-2zM377 323h2v1h-2zM379 324h1v1h-1zM383 326h1v1h-1zM384 327h2v1h-2zM389 330h2v1h-2zM391 331h1v1h-1zM395 333h1v1h-1zM396 334h1v1h-1zM397 335h1v1h-1zM401 337h1v1h-1zM402 338h1v1h-1z" fill="#4169E1"/>
</g>
<text x="610.4" y="19" fill="#4169E1" stroke="#4169E1" stroke-width="0.12" text-anchor="start" textLength="48.5" lengthAdjust="spacingAndGlyphs">0.0 1920.47</text>
<text x="605.8" y="93" fill="#4169E1" stroke="#4169E1" stroke-width="0.12" text-anchor="start" textLength="53.1" lengthAdjust="spacingAndGlyphs">23.6 1836.24</text>
<text x="605.8" y="140" fill="#4169E1" stroke="#4169E1" stroke-width="0.12" text-anchor="start" textLength="53.1" lengthAdjust="spacingAndGlyphs">38.2 1784.14</text>
<text x="605.8" y="177" fill="#4169E1" stroke="#4169E1" stroke-width="0.12" text-anchor="start" textLength="53.1" lengthAdjust="spacingAndGlyphs">50.0 1742.02</text>
<text x="605.8" y="214" fill="#4169E1" stroke="#4169E1" stroke-width="0.12" text-anchor="start" textLength="53.1" lengthAdjust="spacingAndGlyphs">61.8 1699.91</text>
<text x="605.8" y="261" fill="#4169E1" stroke="#4169E1" stroke-width="0.12" text-anchor="start" textLength="53.1" lengthAdjust="spacingAndGlyphs">76.4 1647.80</text>
<text x="600.6" y="336" fill="#4169E1" stroke="#4169E1" stroke-width="0.12" text-anchor="start" textLength="58.3" lengthAdjust="spacingAndGlyphs">100.0 1563.57</text>
<g shape-rendering="crispEdges">
<path d="M63 21h2v1h-2zM65 22h4v1h-4zM69 23h4v1h-4zM73 24h3v1h-3zM76 25h4v1h-4zM80 26h3v1h-3zM83 27h4v1h-4zM87 28h4v1h-4zM91 29h3v1h-3zM94 30h4v1h-4zM98 31h4v1h-4zM102 32h3v1h-3zM105 33h4v1h-4zM109 34h4v1h-4zM113 35h3v1h-3zM116 36h4v1h-4zM120 37h3v1h-3zM123 38h4v1h-4zM127 39h4v1h-4zM131 40h3v1h-3zM134 41h4v1h-4zM138 42h4v1h-4zM142 43h3v1h-3zM145 44h4v1h-4zM149 45h4v1h-4zM153 46h3v1h-3zM156 47h4v1h-4zM160 48h3v1h-3zM163 49h4v1h-4zM167 50h4v1h-4zM171 51h3v1h-3zM174 52h4v1h-4zM178 53h4v1h-4zM182 54h3v1h-3zM185 55h4v1h-4zM189 56h4v1h-4zM193 57h3v1h-3zM196 58h4v1h-4zM200 59h3v1h-3zM203 60h4v1h-4zM207 61h4v1h-4zM211 62h3v1h-3zM214 63h4v1h-4zM218 64h4v1h-4zM222 65h3v1h-3zM225 66h4v1h-4zM229 67h3v1h-3zM232 68h4v1h-4zM236 69h4v1h-4zM240 70h3v1h-3zM243 71h4v1h-4zM247 72h4v1h-4zM251 73h3v1h-3zM254 74h4v1h-4zM258 75h4v1h-4zM262 76h3v1h-3zM265 77h4v1h-4zM269 78h3v1h-3zM272 79h4v1h-4zM276 80h4v1h-4zM280 81h3v1h-3zM283 82h4v1h-4zM287 83h4v1h-4zM291 84h3v1h-3zM294 85h4v1h-4zM298 86h4v1h-4zM302 87h3v1h-3zM305 88h4v1h-4zM309 89h3v1h-3zM312 90h4v1h-4zM316 91h4v1h-4zM320 92h3v1h-3zM323 93h4v1h-4zM327 94h4v1h-4zM331 95h3v1h-3zM334 96h4v1h-4zM338 97h4v1h-4zM342 98h3v1h-3zM345 99h4v1h-4zM349 100h3v1h-3zM352 101h4v1h-4zM356 102h4v1h-4zM360 103h3v1h-3zM363 104h4v1h-4zM367 105h4v1h-4zM371 106h3v1h-3zM374 107h4v1h-4zM378 108h3v1h-3zM381 109h4v1h-4zM385 110h4v1h-4zM389 111h3v1h-3zM392 112h4v1h-4zM396 113h4v1h-4zM400 114h3v1h-3zM403 115h4v1h-4zM407 116h4v1h-4zM411 117h3v1h-3zM414 118h4v1h-4zM418 119h3v1h-3zM421 120h4v1h-4zM425 121h4v1h-4zM429 122h3v1h-3zM432 123h4v1h-4zM436 124h4v1h-4zM440 125h3v1h-3zM443 126h4v1h-4zM447 127h4v1h-4zM451 128h3v1h-3zM454 129h4v1h-4zM458 130h3v1h-3zM461 131h4v1h-4zM465 132h4v1h-4zM469 133h3v1h-3zM472 134h4v1h-4zM476 135h4v1h-4zM480 136h3v1h-3zM483 137h4v1h-4zM487 138h4v1h-4zM491 139h3v1h-3zM494 140h4v1h-4zM498 141h3v1h-3zM501 142h4v1h-4zM505 143h4v1h-4zM509 144h3v1h-3zM512 145h4v1h-4zM516 146h4v1h-4zM520 147h3v1h-3zM523 148h4v1h-4zM527 149h3v1h-3zM530 150h4v1h-4zM534 151h4v1h-4zM538 152h3v1h-3zM541 153h4v1h-4zM545 154h4v1h-4zM549 155h3v1h-3zM552 156h4v1h-4zM556 157h4v1h-4zM560 158h3v1h-3zM563 159h4v1h-4zM567 160h3v1h-3zM570 161h4v1h-4zM574 162h4v1h-4zM578 163h3v1h-3zM581 164h4v1h-4zM585 165h4v1h-4zM589 166h3v1h-3zM592 167h4v1h-4zM596 168h4v1h-4zM600 169h3v1h-3zM603 170h4v1h-4zM607 171h3v1h-3zM610 172h4v1h-4zM614 173h4v1h-4zM618 174h3v1h-3zM621 175h4v1h-4zM625 176h4v1h-4zM629 177h3v1h-3zM632 178h4v1h-4zM636 179h4v1h-4zM640 180h3v1h-3zM643 181h4v1h-4zM647 182h3v1h-3zM650 183h4v1h-4zM654 184h4v1h-4zM658 185h2v1h-2z" fill="#FF0000"/>
<path d="M659 66h1v1h-1zM658 67h1v1h-1zM657 68h1v1h-1zM656 69h1v1h-1zM655 70h1v1h-1zM654 71h1v1h-1zM653 72h1v1h-1zM652 73h1v1h-1zM651 74h1v1h-1zM650 75h1v1h-1zM649 76h1v1h-1zM648 77h1v1h-1zM647 78h1v1h-1zM646 79h1v1h-1zM645 80h1v1h-1zM644 81h1v1h-1zM643 82h1v1h-1zM642 83h1v1h-1zM641 84h1v1h-1zM640 85h1v1h-1zM639 86h1v1h-1zM638 87h1v1h-1zM637 88h1v1h-1zM636 89h1v1h-1zM635 90h1v1h-1zM634 91h1v1h-1zM633 92h1v1h-1zM633 93h1v1h-1zM632 94h1v1h-1zM631 95h1v1h-1zM630 96h1v1h-1zM629 97h1v1h-1zM628 98h1v1h-1zM627 99h1v1h-1zM626 100h1v1h-1zM625 101h1v1h-1zM624 102h1v1h-1zM623 103h1v1h-1zM622 104h1v1h-1zM621 105h1v1h-1zM620 106h1v1h-1zM619 107h1v1h-1zM618 108h1v1h-1zM617 109h1v1h-1zM616 110h1v1h-1zM615 111h1v1h-1zM614 112h1v1h-1zM613 113h1v1h-1zM612 114h1v1h-1zM611 115h1v1h-1zM610 116h1v1h-1zM609 117h1v1h-1zM608 118h1v1h-1zM607 119h1v1h-1zM606 120h1v1h-1zM605 121h1v1h-1zM604 122h1v1h-1zM603 123h1v1h-1zM602 124h1v1h-1zM601 125h1v1h-1zM600 126h1v1h-1zM599 127h1v1h-1zM598 128h1v1h-1zM597 129h1v1h-1zM596 130h1v1h-1zM595 131h1v1h-1zM594 132h1v1h-1zM593 133h1v1h-1zM592 134h1v1h-1zM591 135h1v1h-1zM590 136h1v1h-1zM589 137h1v1h-1zM588 138h1v1h-1zM587 139h1v1h-1zM586 140h1v1h-1zM585 141h1v1h-1zM584 142h1v1h-1zM583 143h1v1h-1zM582 144h1v1h-1zM582 145h1v1h-1zM581 146h1v1h-1zM580 147h1v1h-1zM579 148h1v1h-1zM578 149h1v1h-1zM577 150h1v1h-1zM576 151h1v1h-1zM575 152h1v1h-1zM574 153h1v1h-1zM573 154h1v1h-1zM572 155h1v1h-1zM571 156h1v1h-1zM570 157h1v1h-1zM569 158h1v1h-1zM568 159h1v1h-1zM567 160h1v1h-1zM566 161h1v1h-1zM565 162h1v1h-1zM564 163h1v1h-1zM563 164h1v1h-1zM562 165h1v1h-1zM561 166h1v1h-1zM560 167h1v1h-1zM559 168h1v1h-1zM558 169h1v1h-1zM557 170h1v1h-1zM556 171h1v1h-1zM555 172h1v1h-1zM554 173h1v1h-1zM553 174h1v1h-1zM552 175h1v1h-1zM551 176h1v1h-1zM550 177h1v1h-1zM549 178h1v1h-1zM548 179h1v1h-1zM547 180h1v1h-1zM546 181h1v1h-1zM545 182h1v1h-1zM544 183h1v1h-1zM543 184h1v1h-1zM542 185h1v1h-1zM541 186h1v1h-1zM540 187h1v1h-1zM539 188h1v1h-1zM538 189h1v1h-1zM537 190h1v1h-1zM536 191h1v1h-1zM535 192h1v1h-1zM534 193h1v1h-1zM533 194h1v1h-1zM532 195h1v1h-1zM531 196h1v1h-1zM531 197h1v1h-1zM530 198h1v1h-1zM529 199h1v1h-1zM528 200h1v1h-1zM527 201h1v1h-1zM526 202h1v1h-1zM525 203h1v1h-1zM524 204h1v1h-1zM523 205h1v1h-1zM522 206h1v1h-1zM521 207h1v1h-1zM520 208h1v1h-1zM519 209h1v1h-1zM518 210h1v1h-1zM517 211h1v1h-1zM516 212h1v1h-1zM515 213h1v1h-1zM514 214h1v1h-1zM513 215h1v1h-1zM512 216h1v1h-1zM511 217h1v1h-1zM510 218h1v1h-1zM509 219h1v1h-1zM508 220h1v1h-1zM507 221h1v1h-1zM506 222h1v1h-1zM505 223h1v1h-1zM504 224h1v1h-1zM503 225h1v1h-1zM502 226h1v1h-1zM501 227h1v1h-1zM500 228h1v1h-1zM499 229h1v1h-1zM498 230h1v1h-1zM497 231h1v1h-1zM496 232h1v1h-1zM495 233h1v1h-1zM494 234h1v1h-1zM493 235h1v1h-1zM492 236h1v1h-1zM491 237h1v1h-1zM490 238h1v1h-1zM489 239h1v1h-1zM488 240h1v1h-1zM487 241h1v1h-1zM486 242h1v1h-1zM485 243h1v1h-1zM484 244h1v1h-1zM483 245h1v1h-1zM482 246h1v1h-1zM481 247h1v1h-1zM480 248h1v1h-1zM480 249h1v1h-1zM479 250h1v1h-1zM478 251h1v1h-1zM477 252h1v1h-1zM476 253h1v1h-1zM475 254h1v1h-1zM474 255h1v1h-1zM473 256h1v1h-1zM472 257h1v1h-1zM471 258h1v1h-1zM470 259h1v1h-1zM469 260h1v1h-1zM468 261h1v1h-1zM467 262h1v1h-1zM466 263h1v1h-1zM465 264h1v1h-1zM464 265h1v1h-1zM463 266h1v1h-1zM462 267h1v1h-1zM461 268h1v1h-1zM460 269h1v1h-1zM459 270h1v1h-1zM458 271h1v1h-1zM457 272h1v1h-1zM456 273h1v1h-1zM455 274h1v1h-1zM454 275h1v1h-1zM453 276h1v1h-1zM452 277h1v1h-1zM451 278h1v1h-1zM450 279h1v1h-1zM449 280h1v1h-1zM448 281h1v1h-1zM447 282h1v1h-1zM446 283h1v1h-1zM445 284h1v1h-1zM444 285h1v1h-1zM443 286h1v1h-1zM442 287h1v1h-1zM441 288h1v1h-1zM440 289h1v1h-1zM439 290h1v1h-1zM438 291h1v1h-1zM437 292h1v1h-1zM436 293h1v1h-1zM435 294h1v1h-1zM434 295h1v1h-1zM433 296h1v1h-1zM432 297h1v1h-1zM431 298h1v1h-1zM430 299h1v1h-1zM429 300h1v1h-1zM429 301h1v1h-1zM428 302h1v1h-1zM427 303h1v1h-1zM426 304h1v1h-1zM425 305h1v1h-1zM424 306h1v1h-1zM423 307h1v1h-1zM422 308h1v1h-1zM421 309h1v1h-1zM420 310h1v1h-1zM419 311h1v1h-1zM418 312h1v1h-1zM417 313h1v1h-1zM416 314h1v1h-1zM415 315h1v1h-1zM414 316h1v1h-1zM413 317h1v1h-1zM412 318h1v1h-1zM411 319h1v1h-1zM410 320h1v1h-1zM409 321h1v1h-1zM408 322h1v1h-1zM407 323h1v1h-1zM406 324h1v1h-1zM405 325h1v1h-1zM404 326h1v1h-1zM403 327h1v1h-1z" fill="#BA55D3"/>
<path d="M659 168h1v1h-1zM658 169h1v1h-1zM657 170h1v1h-1zM656 171h1v1h-1zM655 172h1v1h-1zM654 173h1v1h-1zM653 174h1v1h-1zM652 175h1v1h-1zM651 176h1v1h-1zM650 177h1v1h-1zM649 178h1v1h-1zM648 179h1v1h-1zM647 180h1v1h-1zM646 181h1v1h-1zM645 182h1v1h-1zM644 183h1v1h-1zM643 184h1v1h-1zM642 185h1v1h-1zM641 186h1v1h-1zM640 187h1v1h-1zM639 188h1v1h-1zM638 189h1v1h-1zM637 190h1v1h-1zM636 191h1v1h-1zM635 192h1v1h-1zM634 193h1v1h-1zM633 194h1v1h-1zM633 195h1v1h-1zM632 196h1v1h-1zM631 197h1v1h-1zM630 198h1v1h-1zM629 199h1v1h-1zM628 200h1v1h-1zM627 201h1v1h-1zM626 202h1v1h-1zM625 203h1v1h-1zM624 204h1v1h-1zM623 205h1v1h-1zM622 206h1v1h-1zM621 207h1v1h-1zM620 208h1v1h-1zM619 209h1v1h-1zM618 210h1v1h-1zM617 211h1v1h-1zM616 212h1v1h-1zM615 213h1v1h-1zM614 214h1v1h-1zM613 215h1v1h-1zM612 216h1v1h-1zM611 217h1v1h-1zM610 218h1v1h-1zM609 219h1v1h-1zM608 220h1v1h-1zM607 221h1v1h-1zM606 222h1v1h-1zM605 223h1v1h-1zM604 224h1v1h-1zM603 225h1v1h-1zM602 226h1v1h-1zM601 227h1v1h-1zM600 228h1v1h-1zM599 229h1v1h-1zM598 230h1v1h-1zM597 231h1v1h-1zM596 232h1v1h-1zM595 233h1v1h-1zM594 234h1v1h-1zM593 235h1v1h-1zM592 236h1v1h-1zM591 237h1v1h-1zM590 238h1v1h-1zM589 239h1v1h-1zM588 240h1v1h-1zM587 241h1v1h-1zM586 242h1v1h-1zM585 243h1v1h-1zM584 244h1v1h-1zM583 245h1v1h-1zM582 246h1v1h-1zM582 247h1v1h-1zM581 248h1v1h-1zM580 249h1v1h-1zM579 250h1v1h-1zM578 251h1v1h-1zM577 252h1v1h-1zM576 253h1v1h-1zM575 254h1v1h-1zM574 255h1v1h-1zM573 256h1v1h-1zM572 257h1v1h-1zM571 258h1v1h-1zM570 259h1v1h-1zM569 260h1v1h-1zM568 261h1v1h-1zM567 262h1v1h-1zM566 263h1v1h-1zM565 264h1v1h-1zM564 265h1v1h-1zM563 266h1v1h-1zM562 267h1v1h-1zM561 268h1v1h-1zM560 269h1v1h-1zM559 270h1v1h-1zM558 271h1v1h-1zM557 272h1v1h-1zM556 273h1v1h-1zM555 274h1v1h-1zM554 275h1v1h-1zM553 276h1v1h-1zM552 277h1v1h-1zM551 278h1v1h-1zM550 279h1v1h-1zM549 280h1v1h-1zM548 281h1v1h-1zM547 282h1v1h-1zM546 283h1v1h-1zM545 284h1v1h-1zM544 285h1v1h-1zM543 286h1v1h-1zM542 287h1v1h-1zM541 288h1v1h-1zM540 289h1v1h-1zM539 290h1v1h-1zM538 291h1v1h-1zM537 292h1v1h-1zM536 293h1v1h-1zM535 294h1v1h-1zM534 295h1v1h-1zM533 296h1v1h-1zM532 297h1v1h-1zM531 298h1v1h-1zM531 299h1v1h-1zM530 300h1v1h-1zM529 301h1v1h-1zM528 302h1v1h-1zM527 303h1v1h-1zM526 304h1v1h-1zM525 305h1v1h-1zM524 306h1v1h-1zM523 307h1v1h-1zM522 308h1v1h-1zM521 309h1v1h-1zM520 310h1v1h-1zM519 311h1v1h-1zM518 312h1v1h-1zM517 313h1v1h-1zM516 314h1v1h-1zM515 315h1v1h-1zM514 316h1v1h-1zM513 317h1v1h-1zM512 318h1v1h-1zM511 319h1v1h-1zM510 320h1v1h-1zM509 321h1v1h-1zM508 322h1v1h-1zM507 323h1v1h-1zM506 324h1v1h-1zM505 325h1v1h-1zM504 326h1v1h-1zM503 327h1v1h-1zM502 328h1v1h-1zM501 329h1v1h-1zM500 330h1v1h-1zM499 331h1v1h-1zM498 332h1v1h-1zM497 333h1v1h-1zM496 334h1v1h-1zM495 335h1v1h-1zM494 336h1v1h-1zM493 337h1v1h-1zM492 338h1v1h-1zM491 339h1v1h-1zM490 340h1v1h-1zM489 341h1v1h-1zM488 342h1v1h-1zM487 343h1v1h-1zM486 344h1v1h-1zM485 345h1v1h-1zM484 346h1v1h-1zM483 347h1v1h-1zM482 348h1v1h-1zM481 349h1v1h-1zM480 350h1v1h-1zM480 351h1v1h-1zM479 352h1v1h-1zM478 353h1v1h-1zM477 354h1v1h-1zM476 355h1v1h-1zM475 356h1v1h-1zM474 357h1v1h-1zM473 358h1v1h-1zM472 359h1v1h-1zM471 360h1v1h-1zM470 361h1v1h-1zM469 362h1v1h-1zM468 363h1v1h-1zM467 364h1v1h-1zM466 365h1v1h-1zM465 366h1v1h-1zM464 367h1v1h-1zM463 368h1v1h-1zM462 369h1v1h-1zM461 370h1v1h-1zM460 371h1v1h-1zM459 372h1v1h-1zM458 373h1v1h-1zM457 374h1v1h-1zM456 375h1v1h-1zM455 376h1v1h-1zM454 377h1v1h-1z" fill="#BA55D3"/>
<rect x="2" y="2" width="1" height="383" fill="#000"/>
<rect x="2" y="2" width="659" height="1" fill="#000"/>
<rect x="660" y="2" width="1" height="383" fill="#000"/>
<rect x="2" y="384" width="659" height="1" fill="#000"/>
<rect x="661" y="30" width="2" height="1" fill="#000"/>
<rect x="661" y="62" width="2" height="1" fill="#000"/>
<rect x="661" y="94" width="2" height="1" fill="#000"/>
<rect x="661" y="126" width="2" height="1" fill="#000"/>
<rect x="661" y="158" width="2" height="1" fill="#000"/>
<rect x="661" y="190" width="2" height="1" fill="#000"/>
<rect x="661" y="222" width="2" height="1" fill="#000"/>
<rect x="661" y="254" width="2" height="1" fill="#000"/>
<rect x="661" y="286" width="2" height="1" fill="#000"/>
<rect x="661" y="318" width="2" height="1" fill="#000"/>
<rect x="661" y="350" width="2" height="1" fill="#000"/>
<rect x="661" y="382" width="2" height="1" fill="#000"/>
<rect x="3" y="385" width="1" height="3" fill="#000"/>
<rect x="67" y="385" width="1" height="3" fill="#000"/>
<rect x="131" y="385" width="1" height="3" fill="#000"/>
<rect x="195" y="385" width="1" height="3" fill="#000"/>
<rect x="259" y="385" width="1" height="3" fill="#000"/>
<rect x="323" y="385" width="1" height="3" fill="#000"/>
<rect x="387" y="385" width="1" height="3" fill="#000"/>
<rect x="451" y="385" width="1" height="3" fill="#000"/>
<rect x="515" y="385" width="1" height="3" fill="#000"/>
<rect x="579" y="385" width="1" height="3" fill="#000"/>
</g>
<text x="666.5" y="33" fill="#000" stroke="#000" stroke-width="0.12" text-anchor="start" textLength="32.3" lengthAdjust="spacingAndGlyphs">1910.80</text>
<text x="666.5" y="97" fill="#000" stroke="#000" stroke-width="0.12" text-anchor="start" textLength="32.3" lengthAdjust="spacingAndGlyphs">1838.20</text>
<text x="666.5" y="129" fill="#000" stroke="#000" stroke-width="0.12" text-anchor="start" textLength="32.3" lengthAdjust="spacingAndGlyphs">1803.00</text>
<text x="666.5" y="161" fill="#000" stroke="#000" stroke-width="0.12" text-anchor="start" textLength="32.3" lengthAdjust="spacingAndGlyphs">1766.70</text>
<text x="666.5" y="193" fill="#000" stroke="#000" stroke-width="0.12" text-anchor="start" textLength="32.3" lengthAdjust="spacingAndGlyphs">1730.40</text>
<text x="666.5" y="225" fill="#000" stroke="#000" stroke-width="0.12" text-anchor="start" textLength="32.3" lengthAdjust="spacingAndGlyphs">1694.10</text>
<text x="666.5" y="257" fill="#000" stroke="#000" stroke-width="0.12" text-anchor="start" textLength="32.3" lengthAdjust="spacingAndGlyphs">1658.90</text>
<text x="666.5" y="289" fill="#000" stroke="#000" stroke-width="0.12" text-anchor="start" textLength="32.3" lengthAdjust="spacingAndGlyphs">1622.60</text>
<text x="666.5" y="321" fill="#000" stroke="#000" stroke-width="0.12" text-anchor="start" textLength="32.3" lengthAdjust="spacingAndGlyphs">1586.30</text>
<text x="666.5" y="353" fill="#000" stroke="#000" stroke-width="0.12" text-anchor="start" textLength="32.3" lengthAdjust="spacingAndGlyphs">1550.00</text>
<text x="666.5" y="385" fill="#000" stroke="#000" stroke-width="0.12" text-anchor="start" textLength="32.3" lengthAdjust="spacingAndGlyphs">1514.80</text>
<rect x="662" y="58" width="38" height="11" fill="#4169E1" shape-rendering="crispEdges"/>
<text x="666.5" y="67" fill="#fff" stroke="#fff" stroke-width="0.12" text-anchor="start" textLength="32.3" lengthAdjust="spacingAndGlyphs">1872.01</text>
<rect x="662" y="297" width="38" height="11" fill="#4169E1" shape-rendering="crispEdges"/>
<text x="666.5" y="306" fill="#fff" stroke="#fff" stroke-width="0.12" text-anchor="start" textLength="32.3" lengthAdjust="spacingAndGlyphs">1603.34</text>
<rect x="662" y="368" width="38" height="11" fill="#4169E1" shape-rendering="crispEdges"/>
<text x="666.5" y="377" fill="#fff" stroke="#fff" stroke-width="0.12" text-anchor="start" textLength="32.3" lengthAdjust="spacingAndGlyphs">1523.27</text>
<rect x="662" y="161" width="38" height="11" fill="#000" shape-rendering="crispEdges"/>
<text x="666.5" y="170" fill="#fff" stroke="#fff" stroke-width="0.12" text-anchor="start" textLength="32.3" lengthAdjust="spacingAndGlyphs">1756.15</text>
<text x="7.5" y="14" fill="#000" stroke="#000" stroke-width="0.12" text-anchor="start" textLength="53" lengthAdjust="spacingAndGlyphs">GOLD.,Daily</text>
<text x="67.6" y="14" fill="#000" stroke="#000" stroke-width="0.12" text-anchor="start" textLength="32" lengthAdjust="spacingAndGlyphs">1757.21</text>
<text x="103.8" y="14" fill="#000" stroke="#000" stroke-width="0.12" text-anchor="start" textLength="32" lengthAdjust="spacingAndGlyphs">1759.55</text>
<text x="139.8" y="14" fill="#000" stroke="#000" stroke-width="0.12" text-anchor="start" textLength="32" lengthAdjust="spacingAndGlyphs">1752.41</text>
<text x="175.8" y="14" fill="#000" stroke="#000" stroke-width="0.12" text-anchor="start" textLength="32" lengthAdjust="spacingAndGlyphs">1756.15</text>
<text x="2.7" y="397" fill="#000" stroke="#000" stroke-width="0.12" text-anchor="start" textLength="51.3" lengthAdjust="spacingAndGlyphs">19 Aug 2011</text>
<text x="66.7" y="397" fill="#000" stroke="#000" stroke-width="0.12" text-anchor="start" textLength="45.6" lengthAdjust="spacingAndGlyphs">7 Sep 2011</text>
<text x="130.7" y="397" fill="#000" stroke="#000" stroke-width="0.12" text-anchor="start" textLength="50.6" lengthAdjust="spacingAndGlyphs">26 Sep 2011</text>
<text x="194.7" y="397" fill="#000" stroke="#000" stroke-width="0.12" text-anchor="start" textLength="49" lengthAdjust="spacingAndGlyphs">14 Oct 2011</text>
<text x="258.7" y="397" fill="#000" stroke="#000" stroke-width="0.12" text-anchor="start" textLength="47.3" lengthAdjust="spacingAndGlyphs">2 Nov 2011</text>
<text x="322.7" y="397" fill="#000" stroke="#000" stroke-width="0.12" text-anchor="start" textLength="52.6" lengthAdjust="spacingAndGlyphs">21 Nov 2011</text>
<text x="386.7" y="397" fill="#000" stroke="#000" stroke-width="0.12" text-anchor="start" textLength="45.7" lengthAdjust="spacingAndGlyphs">9 Dec 2011</text>
<text x="450.7" y="397" fill="#000" stroke="#000" stroke-width="0.12" text-anchor="start" textLength="50.3" lengthAdjust="spacingAndGlyphs">29 Dec 2011</text>
<text x="514.7" y="397" fill="#000" stroke="#000" stroke-width="0.12" text-anchor="start" textLength="48.7" lengthAdjust="spacingAndGlyphs">18 Jan 2012</text>
<text x="578.7" y="397" fill="#000" stroke="#000" stroke-width="0.12" text-anchor="start" textLength="46.4" lengthAdjust="spacingAndGlyphs">6 Feb 2012</text>
</g>
</svg>
</body></html>
